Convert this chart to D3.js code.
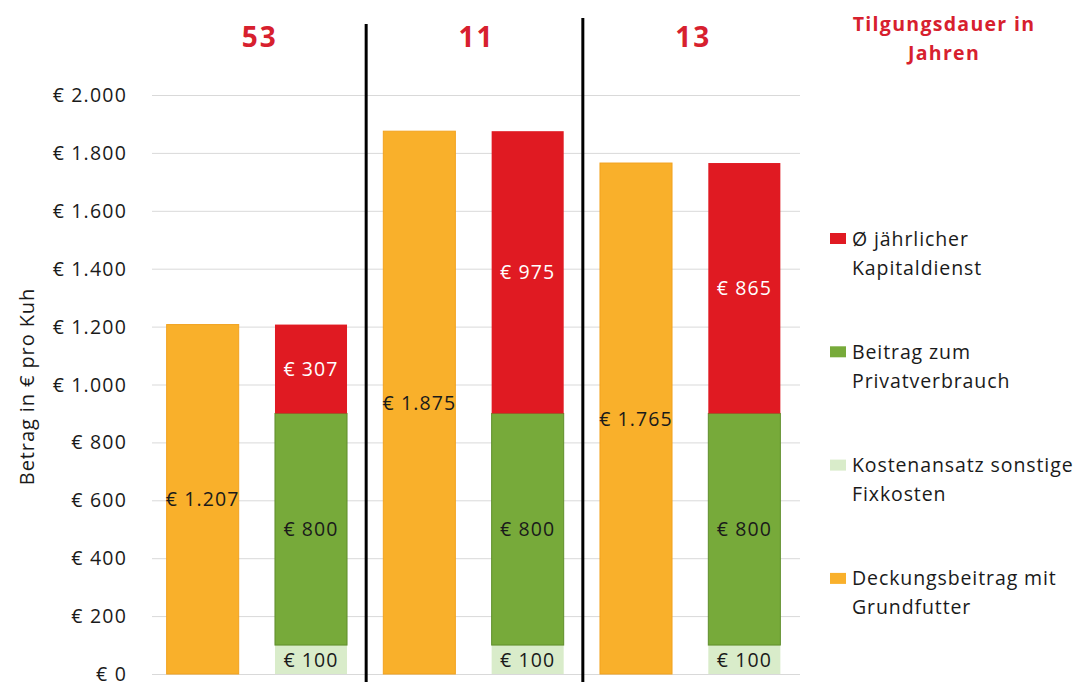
<!DOCTYPE html>
<html>
<head>
<meta charset="utf-8">
<script src="https://cdn.jsdelivr.net/npm/d3@7/dist/d3.min.js"></script>
<style>
  html, body { margin: 0; padding: 0; background: #ffffff; }
  svg { display: block; font-family: "Open Sans", "Noto Sans", sans-serif; }
</style>
</head>
<body>
<svg id="chart" width="1081" height="682"></svg>
<script>
// ---- data ----
const groups = ["53", "11", "13"];               // Tilgungsdauer in Jahren
const deckungsbeitrag = [1207, 1875, 1765];      // Deckungsbeitrag mit Grundfutter
const fixkosten = [100, 100, 100];               // Kostenansatz sonstige Fixkosten
const privatverbrauch = [800, 800, 800];         // Beitrag zum Privatverbrauch
const kapitaldienst = [307, 975, 865];           // Ø jährlicher Kapitaldienst
const yTicks = [0, 200, 400, 600, 800, 1000, 1200, 1400, 1600, 1800, 2000];
const yTickLabels = ["€ 0", "€ 200", "€ 400", "€ 600", "€ 800", "€ 1.000", "€ 1.200", "€ 1.400", "€ 1.600", "€ 1.800", "€ 2.000"];
const legendLabels = [
  ["Ø jährlicher", "Kapitaldienst"],
  ["Beitrag zum", "Privatverbrauch"],
  ["Kostenansatz sonstige", "Fixkosten"],
  ["Deckungsbeitrag mit", "Grundfutter"]
];
const legendTitle = ["Tilgungsdauer in", "Jahren"];
const yTitle = "Betrag in € pro Kuh";

// ---- styles ----
const C = {
  orange: "#F9B02B", orangeEdge: "#F2A21F",
  red: "#E01A22",
  green: "#77AA3A", greenEdge: "#5F8E2B",
  light: "#D9ECCA",
  titleRed: "#D7202E",
  grid: "#D9D9D9"
};
const fmt = v => "€ " + d3.format(",")(v).replace(/,/g, ".");

const svg = d3.select("#chart");

// bars: per group one single bar + one stacked bar
const barKeys = [];
groups.forEach((g, i) => { barKeys.push("db" + i); barKeys.push("st" + i); });

const x = d3.scaleBand().domain(barKeys).range([148.5, 798.5]).paddingInner(0.335).paddingOuter(0.1675);
const y = d3.scaleLinear().domain([0, 2000]).range([674, 95]);

// gridlines
svg.append("g").selectAll("line").data(yTicks).join("line")
  .attr("x1", 152).attr("x2", 800)
  .attr("y1", d => y(d) + 0.5).attr("y2", d => y(d) + 0.5)
  .attr("stroke", C.grid).attr("stroke-width", 1);

// y axis labels
svg.append("g").selectAll("text").data(yTicks).join("text")
  .attr("x", 127).attr("y", d => y(d))
  .attr("dy", "0.36em")
  .attr("text-anchor", "end")
  .attr("font-size", 19.5).attr("letter-spacing", 1.2)
  .attr("fill", "#1a1a1a")
  .text((d, i) => yTickLabels[i]);

// y title
svg.append("text")
  .attr("transform", `translate(34,${(y(0) + y(2000)) / 2 + 2}) rotate(-90)`)
  .attr("text-anchor", "middle")
  .attr("font-size", 20).attr("letter-spacing", 0.9)
  .attr("fill", "#1a1a1a")
  .text(yTitle);

const bw = x.bandwidth();

// orange single bars
groups.forEach((g, i) => {
  const k = "db" + i;
  svg.append("rect")
    .attr("x", x(k)).attr("y", y(deckungsbeitrag[i]))
    .attr("width", bw).attr("height", y(0) - y(deckungsbeitrag[i]))
    .attr("fill", C.orange).attr("stroke", C.orangeEdge).attr("stroke-width", 1);
  svg.append("text")
    .attr("x", x(k) + bw / 2).attr("y", y(deckungsbeitrag[i] / 2))
    .attr("dy", "0.36em").attr("text-anchor", "middle")
    .attr("font-size", 19.5).attr("letter-spacing", 1.1).attr("fill", "#1a1a1a")
    .text(fmt(deckungsbeitrag[i]));
});

// stacked bars
groups.forEach((g, i) => {
  const k = "st" + i;
  const segs = [
    { v0: 0, v1: fixkosten[i], fill: C.light, stroke: "none", txt: "#1a1a1a", val: fixkosten[i] },
    { v0: fixkosten[i], v1: fixkosten[i] + privatverbrauch[i], fill: C.green, stroke: C.greenEdge, txt: "#1a1a1a", val: privatverbrauch[i] },
    { v0: fixkosten[i] + privatverbrauch[i], v1: fixkosten[i] + privatverbrauch[i] + kapitaldienst[i], fill: C.red, stroke: "none", txt: "#ffffff", val: kapitaldienst[i] }
  ];
  segs.forEach(s => {
    svg.append("rect")
      .attr("x", x(k)).attr("y", y(s.v1))
      .attr("width", bw).attr("height", y(s.v0) - y(s.v1))
      .attr("fill", s.fill).attr("stroke", s.stroke).attr("stroke-width", 1);
    svg.append("text")
      .attr("x", x(k) + bw / 2).attr("y", y((s.v0 + s.v1) / 2))
      .attr("dy", "0.36em").attr("text-anchor", "middle")
      .attr("font-size", 19.5).attr("letter-spacing", 1.1).attr("fill", s.txt)
      .text(fmt(s.val));
  });
});

// separators between groups
for (let i = 1; i < groups.length; i++) {
  const left = x("st" + (i - 1)) + bw;
  const right = x("db" + i);
  const sx = (left + right) / 2 + 1;
  svg.append("line")
    .attr("x1", sx).attr("x2", sx)
    .attr("y1", i === 1 ? 24 : 18).attr("y2", 682)
    .attr("stroke", "#000").attr("stroke-width", 3);
}

// group labels (Tilgungsdauer)
groups.forEach((g, i) => {
  const cx = (x("db" + i) + x("st" + i) + bw) / 2;
  svg.append("text")
    .attr("x", cx + 3).attr("y", 47)
    .attr("text-anchor", "middle")
    .attr("font-size", 28).attr("font-weight", "bold").attr("letter-spacing", 2)
    .attr("fill", C.titleRed)
    .text(g);
});

// legend title
legendTitle.forEach((t, j) => {
  svg.append("text")
    .attr("x", 944).attr("y", 31 + j * 29)
    .attr("text-anchor", "middle")
    .attr("font-size", 19.5).attr("font-weight", "bold").attr("letter-spacing", 1.3)
    .attr("fill", C.titleRed)
    .text(t);
});

// legend items
const legendColors = [C.red, C.green, C.light, C.orange];
legendLabels.forEach((lines, i) => {
  const cy = 238.5 + i * 113.3;
  svg.append("rect")
    .attr("x", 830).attr("y", cy - 5.5).attr("width", 16).attr("height", 11)
    .attr("fill", legendColors[i]);
  lines.forEach((t, j) => {
    svg.append("text")
      .attr("x", 852).attr("y", cy + j * 29)
      .attr("dy", "0.36em")
      .attr("font-size", 19.5).attr("letter-spacing", 0.9)
      .attr("fill", "#1a1a1a")
      .text(t);
  });
});
</script>
</body>
</html>
